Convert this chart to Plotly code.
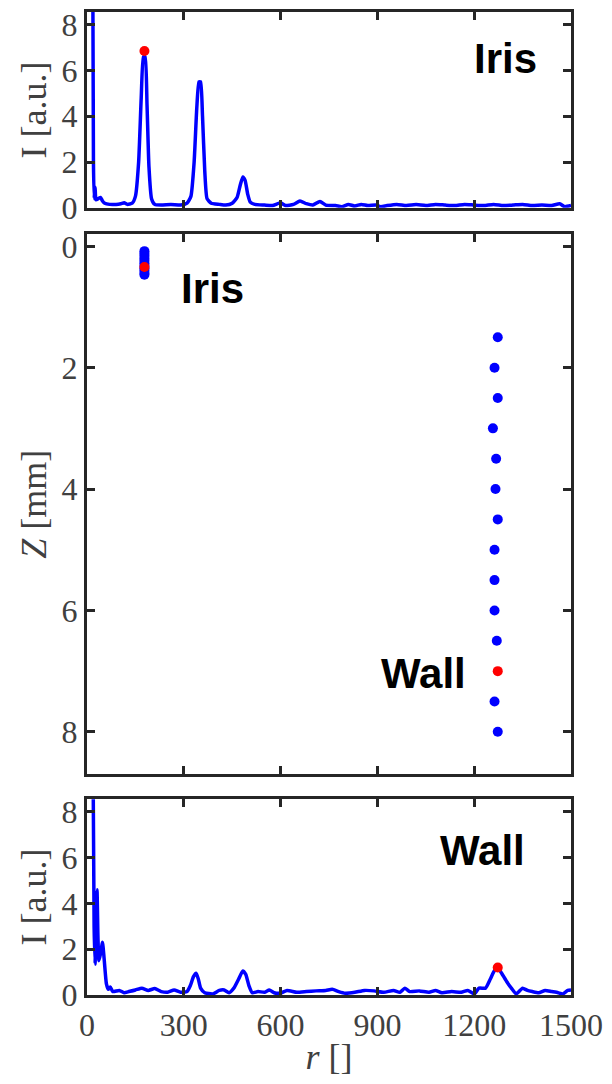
import plotly.graph_objects as go

# ---------------- data ----------------
# Top panel: intensity profile at the iris point
iris_r = [17, 20, 22, 25, 28, 35, 42, 48, 55, 70, 90, 105, 115, 125, 140, 150, 160, 168, 175, 180, 186, 192, 200,
          210, 230, 260, 290, 310, 322, 332, 340, 347, 352, 358, 365, 372, 385, 410, 430, 450, 465, 475, 483, 490,
          498, 506, 520, 550, 575, 600, 615, 640, 660, 680, 700, 722, 740, 770, 790, 810, 830, 850, 870, 895, 910,
          930, 960, 990, 1020, 1050, 1080, 1110, 1140, 1170, 1200, 1230, 1260, 1290, 1320, 1350, 1380, 1410, 1440,
          1465, 1480, 1500]
iris_I = [14.0, 2.0, 0.4, 0.9, 0.35, 0.4, 0.45, 0.3, 0.2, 0.15, 0.15, 0.18, 0.22, 0.15, 0.2, 0.5, 2.0, 4.8, 6.6, 6.6,
          4.5, 1.8, 0.4, 0.15, 0.12, 0.15, 0.12, 0.2, 0.5, 2.0, 4.3, 5.5, 5.5, 4.0, 1.6, 0.4, 0.2, 0.15, 0.12, 0.2,
          0.45, 1.0, 1.35, 1.2, 0.6, 0.25, 0.15, 0.12, 0.1, 0.22, 0.1, 0.15, 0.3, 0.18, 0.12, 0.28, 0.12, 0.1, 0.05,
          0.15, 0.08, 0.15, 0.1, 0.12, 0.05, 0.1, 0.15, 0.1, 0.14, 0.1, 0.15, 0.12, 0.1, 0.15, 0.12, 0.1, 0.15, 0.1,
          0.12, 0.15, 0.1, 0.12, 0.1, 0.18, 0.05, 0.1]
iris_peak_r = [178]
iris_peak_I = [6.85]

# Bottom panel: intensity profile at the wall point
wall_r = [17, 22, 25, 28, 31, 34, 37, 42, 48, 53, 60, 66, 72, 80, 100, 115, 130, 150, 170, 190, 210, 230, 250, 270,
          290, 310, 320, 330, 338, 345, 352, 365, 390, 410, 425, 440, 455, 470, 483, 492, 502, 512, 530, 550, 565,
          580, 600, 620, 650, 680, 710, 740, 760, 780, 800, 830, 860, 890, 920, 950, 970, 985, 1000, 1030, 1060,
          1080, 1100, 1130, 1160, 1180, 1200, 1215, 1235, 1250, 1262, 1273, 1285, 1300, 1315, 1330, 1350, 1365,
          1380, 1400, 1420, 1440, 1460, 1475, 1490, 1500]
wall_I = [14.0, 3.0, 1.35, 3.5, 4.6, 2.5, 1.5, 1.8, 2.3, 1.6, 0.5, 0.25, 0.35, 0.15, 0.2, 0.1, 0.15, 0.22, 0.3, 0.2,
          0.28, 0.15, 0.12, 0.22, 0.12, 0.15, 0.4, 0.8, 0.95, 0.7, 0.3, 0.1, 0.05, 0.2, 0.22, 0.1, 0.3, 0.7, 1.05,
          0.9, 0.4, 0.1, 0.15, 0.12, 0.22, 0.1, 0.08, 0.2, 0.12, 0.15, 0.18, 0.2, 0.25, 0.15, 0.08, 0.12, 0.2, 0.18,
          0.12, 0.2, 0.12, 0.3, 0.15, 0.18, 0.12, 0.2, 0.1, 0.15, 0.12, 0.2, 0.05, 0.3, 0.3, 0.7, 1.05, 1.2, 0.95,
          0.6, 0.3, 0.05, 0.3, 0.2, 0.15, 0.1, 0.2, 0.15, 0.1, 0.05, 0.2, 0.22]
wall_peak_r = [1273]
wall_peak_I = [1.2]

# Middle panel: peak positions vs depth
iris_pts_r = [178, 178, 178, 178, 178, 178, 178, 178, 178, 178, 178]
iris_pts_z = [0.08, 0.12, 0.16, 0.2, 0.24, 0.28, 0.32, 0.36, 0.4, 0.44, 0.47]
iris_sel_r = [178]
iris_sel_z = [0.34]
wall_pts_r = [1273, 1263, 1273, 1258, 1268, 1266, 1273, 1263, 1263, 1263, 1270, 1263, 1273]
wall_pts_z = [1.5, 2.0, 2.5, 3.0, 3.5, 4.0, 4.5, 5.0, 5.5, 6.0, 6.5, 7.5, 8.0]
wall_sel_r = [1273]
wall_sel_z = [7.0]

x_ticks = [0, 300, 600, 900, 1200, 1500]
i_ticks = [0, 2, 4, 6, 8]
z_ticks = [0, 2, 4, 6, 8]

# ---------------- figure ----------------
BLUE = "#0000FF"
RED = "#FF0000"
FRAME = "#262626"
TXT = "#404040"
SERIF = "Liberation Serif"
SANS = "Liberation Sans"

line_style = dict(color=BLUE, width=3.5, shape="spline", smoothing=0.5)

fig = go.Figure()
fig.add_trace(go.Scatter(x=iris_r, y=iris_I, mode="lines", line=line_style,
                         xaxis="x", yaxis="y", showlegend=False))
fig.add_trace(go.Scatter(x=iris_peak_r, y=iris_peak_I, mode="markers", marker=dict(color=RED, size=10),
                         xaxis="x", yaxis="y", showlegend=False))
fig.add_trace(go.Scatter(x=iris_pts_r, y=iris_pts_z, mode="markers", marker=dict(color=BLUE, size=10),
                         xaxis="x2", yaxis="y2", showlegend=False))
fig.add_trace(go.Scatter(x=iris_sel_r, y=iris_sel_z, mode="markers", marker=dict(color=RED, size=10),
                         xaxis="x2", yaxis="y2", showlegend=False))
fig.add_trace(go.Scatter(x=wall_pts_r, y=wall_pts_z, mode="markers", marker=dict(color=BLUE, size=10),
                         xaxis="x2", yaxis="y2", showlegend=False))
fig.add_trace(go.Scatter(x=wall_sel_r, y=wall_sel_z, mode="markers", marker=dict(color=RED, size=10),
                         xaxis="x2", yaxis="y2", showlegend=False))
fig.add_trace(go.Scatter(x=wall_r, y=wall_I, mode="lines", line=line_style,
                         xaxis="x3", yaxis="y3", showlegend=False))
fig.add_trace(go.Scatter(x=wall_peak_r, y=wall_peak_I, mode="markers", marker=dict(color=RED, size=10),
                         xaxis="x3", yaxis="y3", showlegend=False))

common = dict(showline=True, linewidth=3, linecolor=FRAME, mirror="ticks", ticks="inside",
              ticklen=8, tickwidth=3, tickcolor=FRAME, showgrid=False, zeroline=False,
              tickfont=dict(family=SERIF, size=32, color=TXT))
title_font = dict(family=SERIF, size=36, color=TXT)

fig.update_layout(
    width=612, height=1084,
    margin=dict(l=87, r=41, t=6, b=89),
    paper_bgcolor="white", plot_bgcolor="white",
    xaxis=dict(domain=[0, 1], anchor="y", range=[0, 1500], tickvals=x_ticks, showticklabels=False, **common),
    yaxis=dict(domain=[0.8008, 1], anchor="x", range=[0, 8.55], tickvals=i_ticks,
               title=dict(text="I [a.u.]", font=title_font, standoff=4), **common),
    xaxis2=dict(domain=[0, 1], anchor="y2", range=[0, 1500], tickvals=x_ticks, showticklabels=False, **common),
    yaxis2=dict(domain=[0.2245, 0.774], anchor="x2", range=[8.7, -0.2], tickvals=z_ticks,
                title=dict(text="<i>Z</i> [mm]", font=title_font, standoff=4), **common),
    xaxis3=dict(domain=[0, 1], anchor="y3", range=[0, 1500], tickvals=x_ticks,
                title=dict(text="<i>r</i> []", font=title_font, standoff=2), **common),
    yaxis3=dict(domain=[0, 0.1992], anchor="x3", range=[0, 8.55], tickvals=i_ticks,
                title=dict(text="I [a.u.]", font=title_font, standoff=4), **common),
)

lab = dict(family=SANS, size=42, color="black")
fig.add_annotation(x=1298, y=6.5, xref="x", yref="y", text="<b>Iris</b>", showarrow=False, font=lab)
fig.add_annotation(x=390, y=0.7, xref="x2", yref="y2", text="<b>Iris</b>", showarrow=False, font=lab)
fig.add_annotation(x=1044, y=7.04, xref="x2", yref="y2", text="<b>Wall</b>", showarrow=False, font=lab)
fig.add_annotation(x=1227, y=6.3, xref="x3", yref="y3", text="<b>Wall</b>", showarrow=False, font=lab)

fig.write_html("out.html")
